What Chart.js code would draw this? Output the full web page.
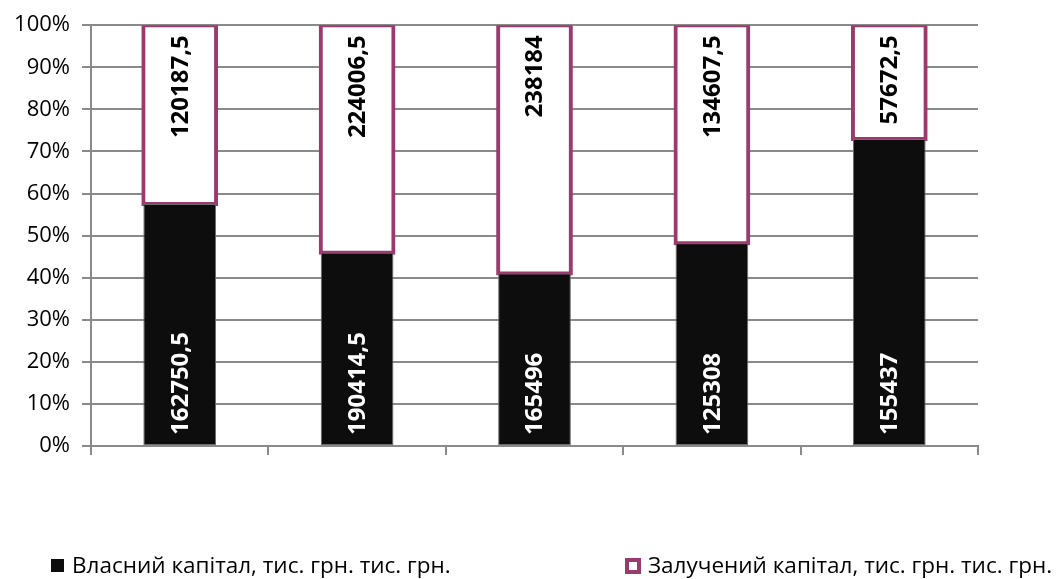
<!DOCTYPE html>
<html>
<head>
<meta charset="utf-8">
<script src="https://cdn.jsdelivr.net/npm/chart.js@4/dist/chart.umd.min.js"></script>
<style>
  html, body { margin: 0; padding: 0; background: #fff; }
  #wrap { width: 1061px; height: 579px; position: relative; }
</style>
</head>
<body>
<div id="wrap"><canvas id="chart"></canvas></div>
<script>
// Дані графіка
const categories = ['1', '2', '3', '4', '5'];
const ownCapital = [162750.5, 190414.5, 165496, 125308, 155437];
const borrowedCapital = [120187.5, 224006.5, 238184, 134607.5, 57672.5];
const seriesNames = ['Власний капітал, тис. грн. тис. грн.', 'Залучений капітал, тис. грн. тис. грн.'];
const yTicks = [0, 10, 20, 30, 40, 50, 60, 70, 80, 90, 100];

// 100% stacked: частки від суми
const totals = ownCapital.map((v, i) => v + borrowedCapital[i]);
const ownPct = ownCapital.map((v, i) => v / totals[i] * 100);
const borrowedPct = borrowedCapital.map((v, i) => v / totals[i] * 100);

const gridColor = '#8a8a8a';
const purple = '#9b3a6c';

const fmt = v => String(v).replace('.', ',');

// Підписи значень, повернуті на 90°
const rotatedLabels = {
    id: 'rotatedLabels',
    afterDatasetsDraw(chart) {
        const ctx = chart.ctx;
        ctx.save();
        ctx.font = "bold 24px 'Open Sans', sans-serif";
        ctx.textBaseline = 'middle';
        chart.data.datasets.forEach((ds, di) => {
            const meta = chart.getDatasetMeta(di);
            meta.data.forEach((bar, i) => {
                const txt = fmt(ds.raw[i]);
                ctx.save();
                if (di === 0) {
                    ctx.translate(bar.x, bar.base - 10);
                    ctx.rotate(-Math.PI / 2);
                    ctx.textAlign = 'left';
                    ctx.fillStyle = '#ffffff';
                } else {
                    ctx.translate(bar.x, bar.y + 10);
                    ctx.rotate(-Math.PI / 2);
                    ctx.textAlign = 'right';
                    ctx.fillStyle = '#000000';
                }
                ctx.fillText(txt, 0, 1);
                ctx.restore();
            });
        });
        ctx.restore();
    }
};

// Легенда знизу
const bottomLegend = {
    id: 'bottomLegend',
    afterDraw(chart) {
        const ctx = chart.ctx;
        const spots = [{ x: 51, tx: 72 }, { x: 625, tx: 648 }];
        const y = 566;
        ctx.save();
        ctx.font = "22.5px 'Open Sans', sans-serif";
        ctx.textBaseline = 'middle';
        ctx.textAlign = 'left';
        chart.data.datasets.forEach((ds, di) => {
            const s = spots[di];
            if (di === 0) {
                ctx.fillStyle = '#0d0d0d';
                ctx.fillRect(s.x, y - 7, 13, 13);
            } else {
                ctx.fillStyle = '#fff';
                ctx.fillRect(s.x, y - 8, 16, 16);
                ctx.strokeStyle = purple;
                ctx.lineWidth = 4;
                ctx.strokeRect(s.x + 2, y - 6, 12, 12);
            }
            ctx.fillStyle = '#000';
            ctx.fillText(ds.label, s.tx, y + 1);
        });
        ctx.restore();
    }
};

new Chart(document.getElementById('chart'), {
    type: 'bar',
    data: {
        labels: categories,
        datasets: [{
            label: seriesNames[0],
            data: ownPct,
            raw: ownCapital,
            backgroundColor: '#0d0d0d',
            borderColor: '#6b6b6b',
            borderWidth: 1,
            borderSkipped: false,
            barPercentage: 0.41,
            categoryPercentage: 1
        }, {
            label: seriesNames[1],
            data: borrowedPct,
            raw: borrowedCapital,
            backgroundColor: '#ffffff',
            borderColor: purple,
            borderWidth: 4,
            borderSkipped: false,
            inflateAmount: 2,
            barPercentage: 0.41,
            categoryPercentage: 1
        }]
    },
    options: {
        responsive: true,
        maintainAspectRatio: false,
        animation: false,
        layout: { padding: { left: 0, top: 19, right: 83, bottom: 0 } },
        plugins: {
            legend: { display: false },
            tooltip: { enabled: false }
        },
        scales: {
            x: {
                stacked: true,
                grid: { offset: true, drawOnChartArea: false, color: gridColor, lineWidth: 2, tickLength: 9 },
                border: { display: true, color: gridColor, width: 2 },
                ticks: { display: false },
                afterFit: s => { s.height = 133; }
            },
            y: {
                stacked: true,
                min: 0,
                max: 100,
                afterBuildTicks: s => { s.ticks = yTicks.map(v => ({ value: v })); },
                grid: { color: gridColor, lineWidth: 2, tickLength: 9 },
                border: { display: true, color: gridColor, width: 2 },
                ticks: {
                    color: '#000',
                    padding: 12,
                    font: { family: "'Open Sans', sans-serif", size: 22 },
                    callback: v => v + '%'
                },
                afterFit: s => { s.width = 91; }
            }
        }
    },
    plugins: [rotatedLabels, bottomLegend]
});
</script>
</body>
</html>
